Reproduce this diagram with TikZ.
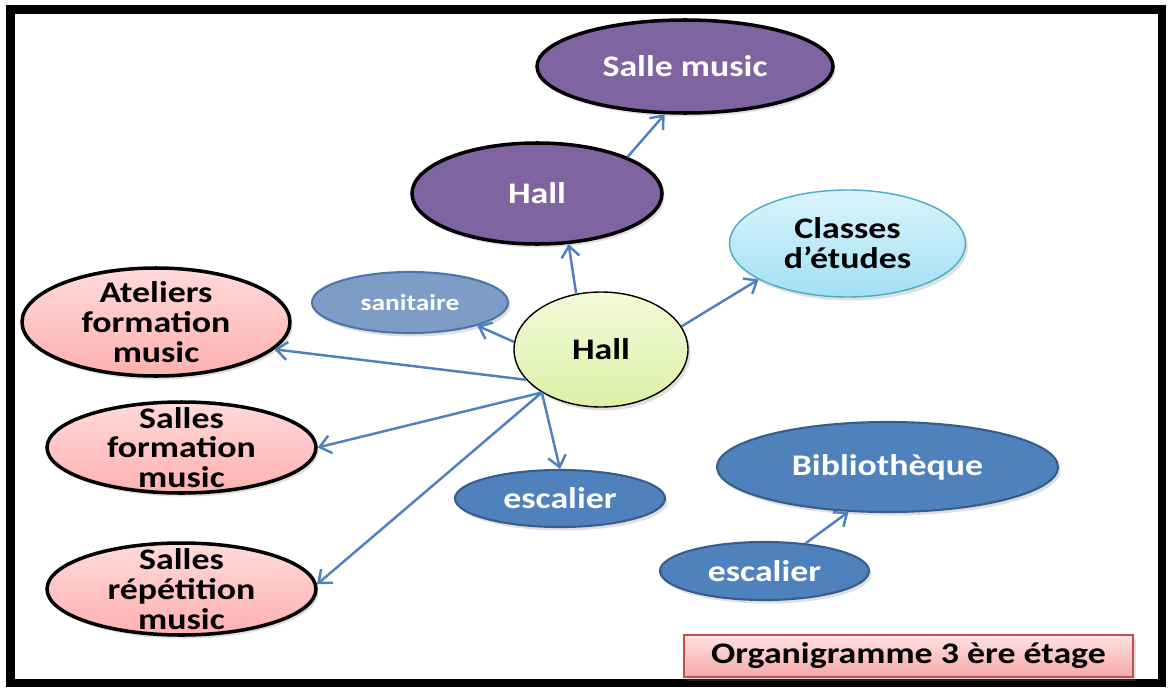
\documentclass[tikz,border=0pt]{standalone}
\usepackage{fontspec}
\setmainfont{Carlito}[FakeStretch=1.2]
\usetikzlibrary{shapes.geometric,arrows.meta,shadows,positioning}

\definecolor{hallpurple}{HTML}{8064A2}
\definecolor{linkblue}{HTML}{4F81BD}
\definecolor{blueborder}{HTML}{385D8A}
\definecolor{sanifill}{HTML}{7D9DC6}
\definecolor{saniborder}{HTML}{4A76AB}
\definecolor{pinktop}{HTML}{FFDADA}
\definecolor{pinkbottom}{HTML}{FFB0B0}
\definecolor{cyantop}{HTML}{DAF4FC}
\definecolor{cyanbottom}{HTML}{A2E0F4}
\definecolor{cyanborder}{HTML}{4BACC6}
\definecolor{greentop}{HTML}{F3FAD9}
\definecolor{greenbottom}{HTML}{DDF0A6}
\definecolor{titletop}{HTML}{FFE2E2}
\definecolor{titlebottom}{HTML}{F6A8A8}
\definecolor{titlered}{HTML}{C0504D}

\begin{document}
\begin{tikzpicture}

 \tikzset{
   base/.style={ellipse, inner sep=0pt, align=center, font=\fontsize{17}{17}\selectfont\bfseries,
     drop shadow={opacity=0.25, shadow xshift=0.5mm, shadow yshift=-0.7mm}},
   purplenode/.style={base, draw=black, line width=2pt, fill=hallpurple, text=white},
   hubnode/.style={base, draw=black, line width=0.8pt, top color=greentop, bottom color=greenbottom},
   cyannode/.style={base, draw=cyanborder, line width=0.8pt, top color=cyantop, bottom color=cyanbottom},
   pinknode/.style={base, draw=black, line width=2pt, top color=pinktop, bottom color=pinkbottom},
   pinktext/.style={align=center, font=\fontsize{17}{17}\selectfont\bfseries},
   bluenode/.style={base, draw=blueborder, line width=1.2pt, fill=linkblue, text=white},
   saninode/.style={bluenode, draw=saniborder, fill=sanifill, font=\fontsize{13}{13}\selectfont\bfseries},
   titlebox/.style={rectangle, draw=titlered, line width=1pt, top color=titletop, bottom color=titlebottom,
     minimum width=8.98cm, minimum height=0.84cm, font=\fontsize{17}{17}\selectfont\bfseries,
     drop shadow={opacity=0.25, shadow xshift=0.5mm, shadow yshift=-0.7mm}},
   link/.style={-{Straight Barb[length=2.2mm,width=3.6mm]}, draw=linkblue, line width=1.4pt},
   frame/.style={draw=black, line width=5pt, fill=white}
 }

 \useasboundingbox (0,0) rectangle (23.36,-13.8);

 % Frame
 \draw[frame] (0.21,-0.19) rectangle (23.24,-13.66);

 % Left column x
 \def\xposPink{3.63}

 % Top branch
 \node[purplenode, minimum width=5.92cm, minimum height=1.86cm] (salle) at (13.7,-1.33) {Salle music};
 \node[purplenode, minimum width=5.0cm, minimum height=2.02cm] (hallp) at (10.74,-3.87) {Hall};
 \node[cyannode, minimum width=4.72cm, minimum height=2.14cm] (classes) at (16.95,-4.87) {Classes\\d’études};

 % Central hall
 \node[hubnode, minimum width=3.48cm, minimum height=2.3cm] (hallg) at (12.02,-6.99) {Hall};
 \node[saninode, minimum width=3.92cm, minimum height=1.22cm] (sani) at (8.2,-6.05) {sanitaire};

 % Left column
 \node[pinknode, minimum width=5.36cm, minimum height=2.16cm,
       label={[pinktext]center:{Ateliers\\formation\\music}}] (atel) at (3.12,-6.44) {};
 \node[pinknode, minimum width=5.38cm, minimum height=1.82cm,
       label={[pinktext]center:{Salles\\formation\\music}}] (sform) at (\xposPink,-8.95) {};
 \node[pinknode, minimum width=5.38cm, minimum height=1.84cm,
       label={[pinktext]center:{Salles\\répétition\\music}}] (srep) at (\xposPink,-11.78) {};

 % Bottom
 \node[bluenode, minimum width=4.2cm, minimum height=1.14cm] (esc1) at (11.2,-9.97) {escalier};
 \node[bluenode, minimum width=6.82cm, minimum height=1.8cm] (biblio) at (17.75,-9.34) {Bibliothèque};
 \node[bluenode, minimum width=4.18cm, minimum height=1.16cm] (esc2) at (15.29,-11.42) {escalier};

 % Title
 \node[titlebox] (title) at (18.17,-13.12) {Organigramme 3 ère étage};

 % Arrows
 \coordinate (hub) at (hallg.216);
 \draw[link] (hallg.114) -- (hallp.-58);
 \draw[link] (hallp.22) -- (salle.-113);
 \draw[link] (hallg.16) -- (classes.202);
 \draw[link] (hallg.175) -- (sani.-19);
 \draw[link] (hallg.202) -- (atel.-13);
 \draw[link] (hub) -- (sform.east);
 \draw[link] (hub) -- (srep.2);
 \draw[link] (hub) -- (esc1.north);
 \draw[link] (esc2.34) -- (biblio.-131);

\end{tikzpicture}
\end{document}
